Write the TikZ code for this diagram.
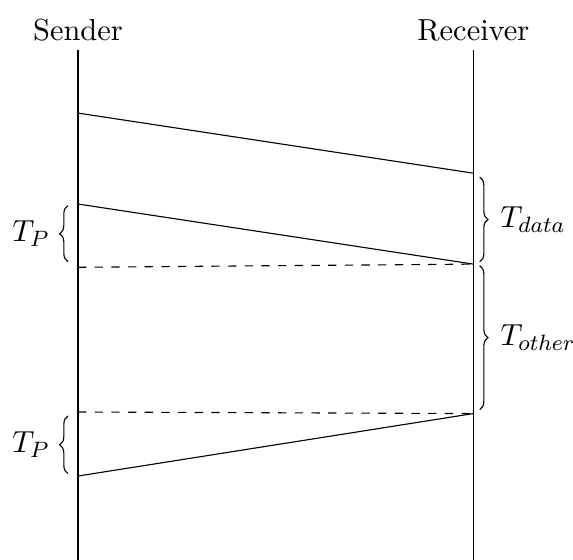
\documentclass[tikz,border=0pt]{standalone}
\usepackage{amsmath,amssymb}
\usetikzlibrary{arrows.meta,positioning,decorations.pathreplacing}

\begin{document}
\begin{tikzpicture}[>=Stealth, every node/.style={font=\fontsize{10.95pt}{13.6pt}\selectfont},
    brc/.style={decorate, decoration={brace, amplitude=3pt}}]
  \useasboundingbox (-0.986,0) rectangle (6.26,-7.08);
  % the two parties
  \node (snd) at (0,-0.38) {Sender};
  \node (rcv) at (5,-0.38) {Receiver};
  \coordinate (sndtop) at (0,-0.63);
  \coordinate (sndbot) at (0,-7.08);
  \coordinate (rcvtop) at (5,-0.63);
  \coordinate (rcvbot) at (5,-7.08);
  \draw (sndtop) -- (sndbot);
  \draw (rcvtop) -- (rcvbot);

  % points on the sender side
  \coordinate (s1) at (0,-1.43);
  \coordinate (s2) at (0,-2.58);
  \coordinate (s3) at (0,-3.38);
  \coordinate (s4) at (0,-5.21);
  \coordinate (s5) at (0,-6.02);
  % points on the receiver side
  \coordinate (r1) at (5,-2.19);
  \coordinate (r2) at (5,-3.34);
  \coordinate (r3) at (5,-5.23);

  \draw (s1) -- (r1);
  \draw (s2) -- (r2);
  \draw[dashed] (s3) -- (r2);
  \draw[dashed] (s4) -- (r3);
  \draw (s5) -- (r3);

  % intervals
  \draw[brc] (5.08,-2.24) -- (5.08,-3.31) node[midway, right=4pt] (tdata) {$T_{data}$};
  \draw[brc] (5.08,-3.36) -- (5.08,-5.18) node[midway, right=4pt] (tother) {$T_{other}$};
  \draw[brc] (-0.126,-3.31) -- (-0.126,-2.60) node[midway, left=3pt] (tpa) {$T_P$};
  \draw[brc] (-0.126,-5.99) -- (-0.126,-5.26) node[midway, left=3pt] (tpb) {$T_P$};
\end{tikzpicture}
\end{document}
